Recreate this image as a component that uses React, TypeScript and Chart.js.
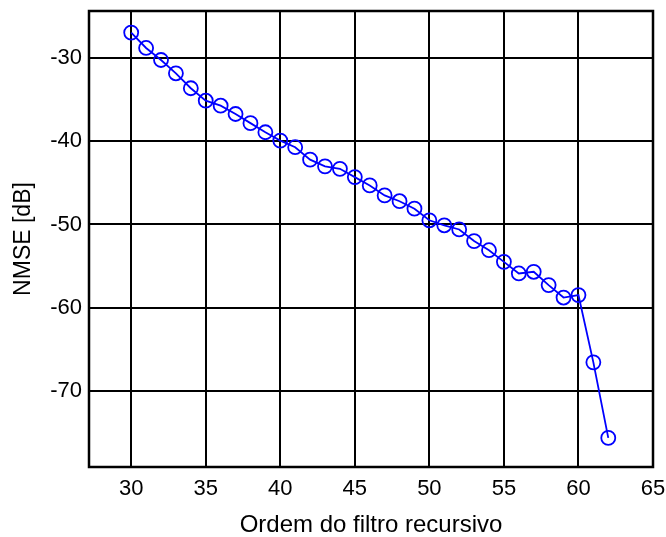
import React, { useEffect, useRef } from "react";
import { Chart, registerables } from "chart.js";

Chart.register(...registerables);

const orders = [30, 31, 32, 33, 34, 35, 36, 37, 38, 39, 40, 41, 42, 43, 44, 45, 46, 47, 48, 49, 50, 51, 52, 53, 54, 55, 56, 57, 58, 59, 60, 61, 62];
const nmse = [-26.9, -28.75, -30.2, -31.8, -33.6, -35.1, -35.7, -36.7, -37.8, -38.9, -39.9, -40.7, -42.2, -43.0, -43.3, -44.3, -45.3, -46.5, -47.2, -48.1, -49.5, -50.1, -50.6, -52.0, -53.1, -54.5, -55.9, -55.7, -57.3, -58.8, -58.5, -66.6, -75.7];
const xTicks = [30, 35, 40, 45, 50, 55, 60, 65];
const yTicks = [-70, -60, -50, -40, -30];
const xTitle = "Ordem do filtro recursivo";
const yTitle = "NMSE [dB]";

const FONT = "'Liberation Sans', Arial, Helvetica, sans-serif";

const framePlugin = {
  id: "frame",
  afterDatasetsDraw(chart: any) {
    const { ctx, chartArea } = chart;
    ctx.save();
    ctx.strokeStyle = "#000";
    ctx.lineWidth = 2.5;
    ctx.strokeRect(chartArea.left, chartArea.top, chartArea.right - chartArea.left, chartArea.bottom - chartArea.top);
    ctx.restore();
  },
};

export default function App() {
  const ref = useRef<HTMLCanvasElement | null>(null);
  useEffect(() => {
    if (!ref.current) return;
    const chart = new Chart(ref.current, {
      type: "line",
      data: {
        datasets: [
          {
            data: orders.map((o, i) => ({ x: o, y: nmse[i] })),
            borderColor: "#0000ff",
            borderWidth: 1.8,
            pointRadius: 7,
            pointBorderWidth: 1.8,
            pointBorderColor: "#0000ff",
            pointBackgroundColor: "rgba(0,0,0,0)",
            fill: false,
            tension: 0,
          },
        ],
      },
      plugins: [framePlugin],
      options: {
        responsive: false,
        animation: false,
        layout: { padding: { top: 11, right: 13, left: 0, bottom: 0 } },
        plugins: { legend: { display: false }, tooltip: { enabled: false } },
        scales: {
          x: {
            type: "linear",
            min: 27.17,
            max: 65,
            afterBuildTicks: (s: any) => {
              s.ticks = xTicks.map((v) => ({ value: v }));
            },
            afterFit: (s: any) => {
              s.height = 70;
              s.paddingLeft = 0;
              s.paddingRight = 0;
            },
            grid: { color: "#000", lineWidth: 2, drawTicks: false },
            border: { display: false },
            ticks: { color: "#000", font: { family: FONT, size: 22 }, padding: 9, maxRotation: 0 },
            title: {
              display: true,
              text: xTitle,
              color: "#000",
              font: { family: FONT, size: 24, lineHeight: 1 },
              padding: { top: 0, bottom: 0 },
            },
          },
          y: {
            type: "linear",
            min: -79.2,
            max: -24.3,
            afterBuildTicks: (s: any) => {
              s.ticks = yTicks.map((v) => ({ value: v }));
            },
            afterFit: (s: any) => {
              s.width = 89;
              s.paddingTop = 0;
              s.paddingBottom = 0;
            },
            grid: { color: "#000", lineWidth: 2, drawTicks: false },
            border: { display: false },
            ticks: { color: "#000", font: { family: FONT, size: 22 }, padding: 7 },
            title: {
              display: true,
              text: yTitle,
              color: "#000",
              font: { family: FONT, size: 23, lineHeight: 1 },
              padding: { top: 12, bottom: 12 },
            },
          },
        },
      },
    });
    return () => chart.destroy();
  }, []);
  return (
    <div style={{ position: "fixed", left: 0, top: 0, width: 666, height: 537, background: "#fff" }}>
      <canvas ref={ref} width={666} height={537} />
    </div>
  );
}
